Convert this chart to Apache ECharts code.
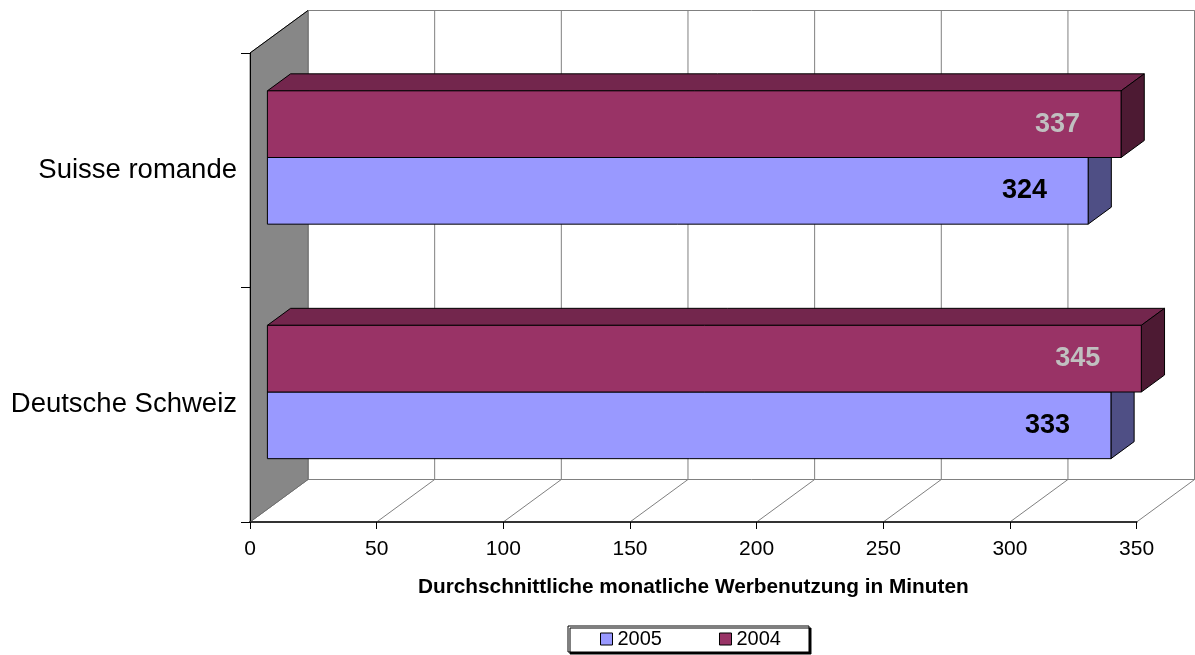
<!DOCTYPE html>
<html>
<head>
<meta charset="utf-8">
<script src="https://cdn.jsdelivr.net/npm/echarts@6/dist/echarts.min.js"></script>
<style>
  html, body { margin: 0; background: #fff; }
  #chart { width: 1195px; height: 655px; }
</style>
</head>
<body>
<div id="chart"></div>
<script>
const categories = ["Deutsche Schweiz", "Suisse romande"];
const values2005 = [333, 324];
const values2004 = [345, 337];
const xTicks = [0, 50, 100, 150, 200, 250, 300, 350];

const FONT = 'Arial, "Liberation Sans", sans-serif';
// oblique 3d look: depth vector of the chart box, bars sit part way in
const depth = [58, -42.5];
const barShift = 0.3;
const barDepth = 0.4;
const barShare = 0.2843;

function renderWalls(params, api) {
  const cs = params.coordSys;
  const x0 = cs.x;
  const y0 = cs.y;
  const yb = cs.y + cs.height;
  const [dx, dy] = depth;
  const xEnd = api.coord([xTicks[xTicks.length - 1], 0])[0];
  const children = [];

  children.push({
    type: "rect",
    shape: { x: x0 + dx, y: y0 + dy, width: xEnd - x0, height: cs.height },
    style: { fill: "#fff", stroke: "#808080", lineWidth: 1 },
  });
  xTicks.forEach((t) => {
    const x = api.coord([t, 0])[0];
    children.push({
      type: "line",
      shape: { x1: x + dx, y1: y0 + dy, x2: x + dx, y2: yb + dy },
      style: { stroke: "#808080", lineWidth: 1 },
    });
    children.push({
      type: "line",
      shape: { x1: x, y1: yb, x2: x + dx, y2: yb + dy },
      style: { stroke: "#808080", lineWidth: 1 },
    });
  });
  children.push({
    type: "polygon",
    shape: { points: [[x0, y0], [x0 + dx, y0 + dy], [x0 + dx, yb + dy], [x0, yb]] },
    style: { fill: "#878787", stroke: "#6e6e6e", lineWidth: 1 },
  });
  children.push({
    type: "line",
    shape: { x1: x0, y1: y0, x2: x0 + dx, y2: y0 + dy },
    style: { stroke: "#000", lineWidth: 1 },
  });
  // front edge of the floor
  children.push({
    type: "line",
    shape: { x1: x0, y1: yb, x2: xEnd, y2: yb },
    style: { stroke: "#333", lineWidth: 2 },
  });
  return { type: "group", children };
}

function makeBarRenderer(slot, colors, labelColor) {
  return (params, api) => {
    const cat = api.value(1);
    const start = api.coord([0, cat]);
    const end = api.coord([api.value(0), cat]);
    const band = api.size([0, 1])[1];
    const h = band * barShare;
    const sx = depth[0] * barShift;
    const sy = depth[1] * barShift;
    const dx = depth[0] * barDepth;
    const dy = depth[1] * barDepth;
    const x0 = start[0] + sx;
    const x1 = end[0] + sx;
    const yT = start[1] + sy + slot * h;
    const yB = yT + h;
    const edge = { stroke: "#000", lineWidth: 1 };

    return {
      type: "group",
      children: [
        {
          type: "polygon",
          shape: { points: [[x0, yT], [x1, yT], [x1 + dx, yT + dy], [x0 + dx, yT + dy]] },
          style: { fill: colors.top, ...edge },
        },
        {
          type: "polygon",
          shape: { points: [[x1, yT], [x1 + dx, yT + dy], [x1 + dx, yB + dy], [x1, yB]] },
          style: { fill: colors.side, ...edge },
        },
        {
          type: "rect",
          shape: { x: x0, y: yT, width: x1 - x0, height: h },
          style: { fill: colors.front, ...edge },
        },
        {
          type: "text",
          style: {
            x: x1 - 41,
            y: (yT + yB) / 2,
            text: String(api.value(0)),
            fill: labelColor,
            font: "bold 27px " + FONT,
            align: "right",
            verticalAlign: "middle",
          },
        },
      ],
    };
  };
}

const chart = echarts.init(document.getElementById("chart"), null, { renderer: "canvas" });

chart.setOption({
  animation: false,
  backgroundColor: "#fff",
  grid: {
    left: 250,
    right: 58.4,
    top: 53,
    bottom: 133,
  },
  legend: {
    data: ["2005", "2004"],
    left: 568,
    top: 626,
    padding: [3, 28, 3, 32],
    itemGap: 57,
    itemWidth: 12,
    itemHeight: 12,
    icon: "rect",
    backgroundColor: "#fff",
    borderColor: "#000",
    borderWidth: 1,
    shadowColor: "#000",
    shadowOffsetX: 2,
    shadowOffsetY: 2,
    shadowBlur: 0,
    itemStyle: { borderColor: "#000", borderWidth: 1 },
    textStyle: { fontFamily: FONT, fontSize: 20, color: "#000", lineHeight: 16 },
  },
  xAxis: {
    type: "value",
    min: 0,
    max: 350,
    interval: 50,
    z: 5,
    name: "Durchschnittliche monatliche Werbenutzung in Minuten",
    nameLocation: "middle",
    nameGap: 55,
    nameTextStyle: { fontFamily: FONT, fontSize: 20.8, fontWeight: "bold", color: "#000" },
    axisLine: { show: true, onZero: false, lineStyle: { color: "#333", width: 2 } },
    axisTick: { show: true, length: 7, lineStyle: { color: "#000" } },
    axisLabel: { fontFamily: FONT, fontSize: 21, color: "#000", margin: 17 },
    splitLine: { show: false },
  },
  yAxis: {
    type: "category",
    data: categories,
    z: 5,
    axisLine: { show: true, lineStyle: { color: "#000", width: 1 } },
    axisTick: { show: true, length: 9, lineStyle: { color: "#000" } },
    axisLabel: { fontFamily: FONT, fontSize: 27.5, color: "#000", margin: 13 },
  },
  series: [
    {
      name: "walls",
      type: "custom",
      z: 1,
      silent: true,
      renderItem: renderWalls,
      data: [[0, 0]],
      encode: { x: 0, y: 1 },
    },
    {
      name: "2005",
      type: "custom",
      z: 2,
      itemStyle: { color: "#9999FF" },
      renderItem: makeBarRenderer(0, { front: "#9999FF", top: "#7A7ACC", side: "#4F4F85" }, "#000"),
      data: values2005.map((v, i) => [v, i]),
      encode: { x: 0, y: 1 },
    },
    {
      name: "2004",
      type: "custom",
      z: 3,
      itemStyle: { color: "#993366" },
      renderItem: makeBarRenderer(-1, { front: "#993366", top: "#73264D", side: "#4D1A33" }, "#C0C0C0"),
      data: values2004.map((v, i) => [v, i]),
      encode: { x: 0, y: 1 },
    },
  ],
});
</script>
</body>
</html>
